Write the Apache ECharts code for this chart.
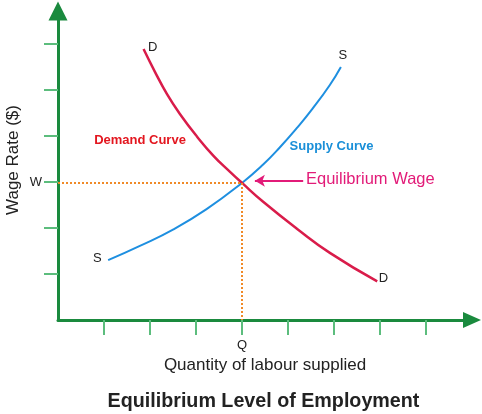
<!DOCTYPE html>
<html><head><meta charset="utf-8">
<script src="https://cdn.jsdelivr.net/npm/echarts@6/dist/echarts.min.js"></script>
<style>html,body{margin:0;padding:0;background:#fff}#c{width:482px;height:414px}</style>
</head><body><div id="c"></div>
<script>
// ---- data ----
const demandX = [1.86, 2.11, 2.37, 2.65, 3.02, 3.38, 3.74, 4.00, 4.46, 5.20, 5.91, 6.94];
const demandY = [5.89, 5.39, 4.91, 4.48, 3.99, 3.57, 3.22, 2.98, 2.57, 1.98, 1.46, 0.84];
const supplyX = [1.09, 1.78, 2.51, 3.23, 4.00, 4.46, 4.83, 5.19, 5.53, 5.91, 6.15];
const supplyY = [1.30, 1.61, 1.97, 2.41, 2.98, 3.38, 3.76, 4.17, 4.59, 5.11, 5.50];
const equilibrium = [4, 2.98];
const xTickValues = [1, 2, 3, 4, 5, 6, 7, 8];
const yTickValues = [1, 2, 3, 4, 5, 6];
const xLabelValues = [4];
const xLabelTexts = ['Q'];
const yLabelValues = [3];
const yLabelTexts = ['W'];
const demandEndLabels = ['D', 'D'];
const supplyEndLabels = ['S', 'S'];
const arrowFrom = [5.33, 3.03];
const arrowTo = [4.28, 3.03];

const AXIS_GREEN = '#1a8a3e';
const TICK_GREEN = '#5cbd7d';
const FONT = 'Liberation Sans, Arial, sans-serif';

function buildData(xs, ys, labels, posStart, posEnd) {
  return xs.map((x, i) => {
    const item = { value: [x, ys[i]] };
    if (i === 0) item.label = Object.assign({ show: true, formatter: labels[0] }, posStart);
    if (i === xs.length - 1) item.label = Object.assign({ show: true, formatter: labels[1] }, posEnd);
    return item;
  });
}

const chart = echarts.init(document.getElementById('c'), null, { renderer: 'canvas' });
const endLabelStyle = { color: '#222', fontSize: 13, fontFamily: FONT };
const hiddenSymbol = { showSymbol: true, symbol: 'circle', symbolSize: 1, itemStyle: { color: 'rgba(0,0,0,0)', borderWidth: 0 } };

chart.setOption({
  animation: false,
  backgroundColor: '#fff',
  grid: { left: 58, right: 10, top: 10.9, bottom: 94, containLabel: false },
  xAxis: {
    type: 'value', min: 0, max: 9, interval: 1,
    splitLine: { show: false },
    axisLine: { show: true, lineStyle: { color: AXIS_GREEN, width: 3 }, symbol: ['none', 'triangle'], symbolSize: [16, 18] },
    axisTick: { show: true, customValues: xTickValues, length: 15, lineStyle: { color: TICK_GREEN, width: 2 } },
    axisLabel: { show: true, customValues: xLabelValues, margin: 19, color: '#222', fontSize: 13, fontFamily: FONT,
      formatter: v => { const k = xLabelValues.indexOf(v); return k >= 0 ? xLabelTexts[k] : ''; } },
    name: 'Quantity of labour supplied', nameLocation: 'middle', nameGap: 37,
    nameTextStyle: { color: '#222', fontSize: 17, fontFamily: FONT }
  },
  yAxis: {
    type: 'value', min: 0, max: 6.72, interval: 1,
    splitLine: { show: false },
    axisLine: { show: true, lineStyle: { color: AXIS_GREEN, width: 3 }, symbol: ['none', 'triangle'], symbolSize: [19, 19] },
    axisTick: { show: true, customValues: yTickValues, length: 14, lineStyle: { color: TICK_GREEN, width: 2 } },
    axisLabel: { show: true, customValues: yLabelValues, margin: 16, color: '#222', fontSize: 13, fontFamily: FONT,
      formatter: v => { const k = yLabelValues.indexOf(v); return k >= 0 ? yLabelTexts[k] : ''; } }
  },
  series: [
    {
      type: 'line', z: 1, data: [], silent: true,
      markLine: {
        silent: true, symbol: 'none', animation: false, label: { show: false },
        lineStyle: { color: '#f08a28', type: 'dotted', width: 2 },
        data: [
          [{ coord: [0, equilibrium[1]] }, { coord: equilibrium }],
          [{ coord: equilibrium }, { coord: [equilibrium[0], 0] }]
        ]
      }
    },
    Object.assign({
      name: 'Supply', type: 'line', z: 3, smooth: 0.5, silent: true,
      lineStyle: { color: '#1e8fe0', width: 2 },
      data: buildData(supplyX, supplyY, supplyEndLabels,
        Object.assign({ position: 'left', distance: 6, offset: [0, -2] }, endLabelStyle),
        Object.assign({ position: 'top', distance: 5, offset: [2, 0] }, endLabelStyle))
    }, hiddenSymbol),
    Object.assign({
      name: 'Demand', type: 'line', z: 4, smooth: 0.5, silent: true,
      lineStyle: { color: '#d91c4a', width: 2.5 },
      data: buildData(demandX, demandY, demandEndLabels,
        Object.assign({ position: 'right', distance: 4, offset: [0, -2] }, endLabelStyle),
        Object.assign({ position: 'right', distance: 1, offset: [0, -3] }, endLabelStyle)),
      markLine: {
        silent: true, animation: false, symbol: ['none', 'arrow'], symbolSize: [9, 10],
        label: { show: false },
        lineStyle: { color: '#e21b78', type: 'solid', width: 2 },
        data: [[{ coord: arrowFrom }, { coord: arrowTo }]]
      }
    }, hiddenSymbol)
  ],
  graphic: [
    { type: 'text', x: 140, y: 140, style: { text: 'Demand Curve', fill: '#e3161f', font: 'bold 13px ' + FONT, textAlign: 'center', textVerticalAlign: 'middle' } },
    { type: 'text', x: 331.5, y: 146, style: { text: 'Supply Curve', fill: '#1a8fd8', font: 'bold 13px ' + FONT, textAlign: 'center', textVerticalAlign: 'middle' } },
    { type: 'text', x: 306, y: 179, style: { text: 'Equilibrium Wage', fill: '#e21b78', font: '16.5px ' + FONT, textAlign: 'left', textVerticalAlign: 'middle' } },
    { type: 'text', x: 13, y: 160, rotation: Math.PI / 2, style: { text: 'Wage Rate ($)', fill: '#222', font: '17px ' + FONT, textAlign: 'center', textVerticalAlign: 'middle' } },
    { type: 'text', x: 263.5, y: 402, style: { text: 'Equilibrium Level of Employment', fill: '#222', font: 'bold 19.7px ' + FONT, textAlign: 'center', textVerticalAlign: 'middle' } }
  ]
});
</script>
</body></html>
